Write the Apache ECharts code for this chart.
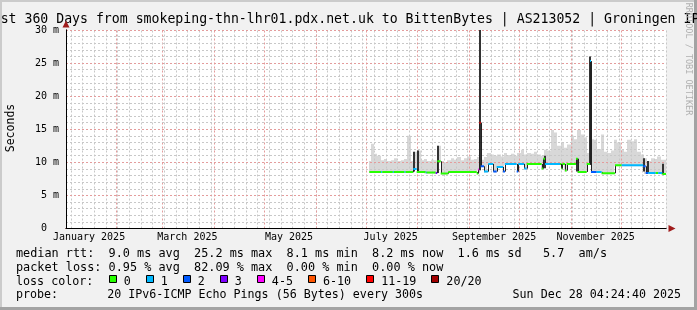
<!DOCTYPE html>
<html><head><meta charset="utf-8">
<script src="https://cdn.jsdelivr.net/npm/echarts@6/dist/echarts.min.js"></script>
<style>html,body{margin:0;padding:0;background:#f1f1f1;}#c{width:697px;height:310px;}</style>
</head><body><div id="c"></div>
<script>
// ---------------- data ----------------
const titleText = 'Last 360 Days from smokeping-thn-lhr01.pdx.net.uk to BittenBytes | AS213052 | Groningen IPv6';
const yAxisName = 'Seconds';
const rangeStart = '2025-01-02 04:24:40';
const rangeEnd = '2025-12-28 04:24:40';
const yTicks = [0, 5, 10, 15, 20, 25, 30];
const monthLabels = ['January 2025', 'March 2025', 'May 2025', 'July 2025', 'September 2025', 'November 2025'];
const monthLabelDates = ['2025-01-16', '2025-03-16', '2025-05-16', '2025-07-16', '2025-09-16', '2025-11-16'];

// median rtt (ms) as steps: start time, value, loss class index
const medStart = ['2025-07-03 04:00','2025-07-10 07:00','2025-07-10 22:00','2025-07-17 07:00','2025-07-17 22:00','2025-07-24 07:00','2025-07-24 22:00','2025-07-29 13:00','2025-07-31 14:00','2025-08-06 00:00','2025-08-06 14:00','2025-08-12 00:00','2025-08-12 23:00','2025-08-15 00:00','2025-08-19 13:00','2025-09-05 14:00','2025-09-06 13:00','2025-09-07 05:00','2025-09-08 00:00','2025-09-10 00:00','2025-09-12 13:00','2025-09-15 13:00','2025-09-17 14:00','2025-09-21 10:00','2025-09-22 14:00','2025-09-29 14:00','2025-09-30 13:00','2025-10-04 04:00','2025-10-05 14:00','2025-10-14 14:00','2025-10-15 13:00','2025-10-16 14:00','2025-10-25 14:00','2025-10-26 10:00','2025-10-27 00:00','2025-10-28 14:00','2025-10-29 14:00','2025-11-04 04:00','2025-11-05 05:00','2025-11-10 14:00','2025-11-12 14:00','2025-11-13 04:00','2025-11-16 14:00','2025-11-19 14:00','2025-11-27 14:00','2025-12-01 14:00','2025-12-14 13:00','2025-12-16 00:00','2025-12-17 12:00','2025-12-22 00:00','2025-12-23 12:00','2025-12-26 00:00'];
const medValue = [8.55,8.55,8.55,8.55,8.55,8.55,8.55,9.0,8.55,8.45,8.45,8.4,10.15,8.3,8.55,8.3,8.9,16.0,9.4,8.6,9.75,8.6,9.3,8.6,9.75,8.6,9.75,9.05,9.75,9.05,10.55,9.75,9.75,9.05,9.75,8.75,9.75,10.55,8.55,9.75,25.3,8.55,8.55,8.35,9.55,9.55,9.4,8.4,8.4,8.4,8.4,8.25];
const medLoss = [0,1,0,1,0,1,0,1,0,1,0,3,0,0,0,0,4,6,2,1,1,2,1,2,1,2,1,1,0,0,0,1,0,0,0,0,0,0,0,0,1,2,1,0,0,1,2,2,1,0,1,0];

// smoke: upper edge of the ping spread (ms), one value per two days
const smokeDates = ['2025-07-03','2025-07-05','2025-07-07','2025-07-09','2025-07-11','2025-07-13','2025-07-15','2025-07-17','2025-07-19','2025-07-21','2025-07-23','2025-07-25','2025-07-27','2025-07-29','2025-07-31',
'2025-08-02','2025-08-04','2025-08-06','2025-08-08','2025-08-10','2025-08-12','2025-08-14','2025-08-16','2025-08-18','2025-08-20','2025-08-22','2025-08-24','2025-08-26','2025-08-28','2025-08-30',
'2025-09-01','2025-09-03','2025-09-05','2025-09-07','2025-09-09','2025-09-11','2025-09-13','2025-09-15','2025-09-17','2025-09-19','2025-09-21','2025-09-23','2025-09-25','2025-09-27','2025-09-29',
'2025-10-01','2025-10-03','2025-10-05','2025-10-07','2025-10-09','2025-10-11','2025-10-13','2025-10-15','2025-10-17','2025-10-19','2025-10-21','2025-10-23','2025-10-25','2025-10-27','2025-10-29','2025-10-31',
'2025-11-02','2025-11-04','2025-11-06','2025-11-08','2025-11-10','2025-11-12','2025-11-14','2025-11-16','2025-11-18','2025-11-20','2025-11-22','2025-11-24','2025-11-26','2025-11-28','2025-11-30',
'2025-12-02','2025-12-04','2025-12-06','2025-12-08','2025-12-10','2025-12-12','2025-12-14','2025-12-16','2025-12-18','2025-12-20','2025-12-22','2025-12-24','2025-12-26','2025-12-28'];
const smokeHigh = [10.2,12.8,11.3,11.0,10.3,10.5,10.2,10.3,10.6,10.2,10.3,10.5,14.0,10.2,11.6,
11.8,10.3,10.5,10.2,10.4,10.3,12.5,10.2,10.0,10.3,10.6,10.4,10.8,10.3,10.6,
10.9,10.4,10.5,10.8,10.4,10.8,11.4,11.2,11.0,11.2,10.9,11.4,11.1,11.3,11.0,
11.4,11.9,11.2,11.4,11.3,11.6,11.2,11.0,11.9,11.8,14.9,14.5,12.5,13.0,12.2,12.7,
14.0,13.5,14.9,14.2,13.8,11.4,13.5,13.4,12.0,14.2,11.6,11.4,11.8,13.4,13.0,
11.9,11.6,13.4,13.2,13.5,11.6,11.2,10.6,10.2,10.6,10.5,10.9,10.4,10.4];

// dense (dark) smoke bursts
const spikeDates = ['2025-07-30 05:00','2025-08-01 12:00','2025-08-13 05:00','2025-09-07 10:00','2025-10-16 19:00','2025-11-05 00:00','2025-11-12 19:00','2025-12-14 19:00','2025-12-17 12:00','2025-12-26 14:00'];
const spikeLow = [8.6, 8.6, 8.4, 8.8, 9.1, 8.6, 9.6, 8.6, 8.4, 8.3];
const spikeHigh = [11.6, 11.8, 12.5, 30, 11.0, 10.6, 26.0, 10.6, 10.2, 9.8];

// legend
const lossLabels = ['0', '1', '2', '3', '4-5', '6-10', '11-19', '20/20'];
const lossColors = ['#26ff00', '#00b8ff', '#0059ff', '#7e00ff', '#ff00ff', '#ff5500', '#ff0000', '#a00000'];
const rttStats = ['9.0', '25.2', '8.1', '8.2', '1.6', '5.7'];
const lossStats = ['0.95', '82.09', '0.00', '0.00'];
const probeText = '20 IPv6-ICMP Echo Pings (56 Bytes) every 300s';
const stampText = 'Sun Dec 28 04:24:40 2025';
const watermark = 'RRDTOOL / TOBI OETIKER';

// ---------------- build ----------------
const MONO = '"DejaVu Sans Mono", monospace';
const DAY = 864e5;
const ts = s => { const [d, t = '00:00'] = s.split(' '); const [Y, M, D] = d.split('-').map(Number); const p = t.split(':').map(Number); return Date.UTC(Y, M - 1, D, p[0], p[1], p[2] || 0); };
const tMin = ts(rangeStart), tMax = ts(rangeEnd);
const medT = medStart.map(ts);
const medSeg = medT.map((t, i) => [t, i + 1 < medT.length ? medT[i + 1] : tMax, medValue[i], medLoss[i], i > 0 ? medValue[i - 1] : medValue[i]]);
function medianAt(t) { let v = medValue[0]; for (let i = 0; i < medT.length; i++) if (medT[i] <= t) v = medValue[i]; return v; }
const smokeData = smokeDates.map((d, i) => { const t = ts(d); return [Math.max(t - DAY, medT[0]), Math.min(t + DAY, tMax), medianAt(t) - 0.15, smokeHigh[i]]; });
const spikeData = spikeDates.map((d, i) => [ts(d), spikeLow[i], spikeHigh[i]]);
const labelTimes = monthLabelDates.map(ts);
const vLines = [];
for (let t = ts('2025-01-05'); t < tMax; t += 7 * DAY) vLines.push([t, 0]);
for (let m = 1; m < 12; m++) vLines.push([Date.UTC(2025, m, 1), 1]);

const chart = echarts.init(document.getElementById('c'), null, { renderer: 'canvas' });

const line1 = 'median rtt:  ' + rttStats[0] + ' ms avg  ' + rttStats[1] + ' ms max  ' + rttStats[2] + ' ms min  ' + rttStats[3] + ' ms now  ' + rttStats[4] + ' ms sd   ' + rttStats[5] + '  am/s';
const line2 = 'packet loss: ' + lossStats[0] + ' % avg  ' + lossStats[1] + ' % max  ' + lossStats[2] + ' % min  ' + lossStats[3] + ' % now';
const line4 = 'probe:       ' + probeText;

const graphics = [
  { type: 'rect', shape: { x: 0, y: 0, width: 697, height: 2 }, style: { fill: '#cbcbcb' }, silent: true },
  { type: 'rect', shape: { x: 0, y: 0, width: 2, height: 310 }, style: { fill: '#cbcbcb' }, silent: true },
  { type: 'rect', shape: { x: 0, y: 307, width: 697, height: 3 }, style: { fill: '#a3a3a3' }, silent: true },
  { type: 'rect', shape: { x: 694, y: 0, width: 3, height: 310 }, style: { fill: '#a3a3a3' }, silent: true },
  { type: 'text', x: 350, y: 19.4, style: { text: titleText, font: '13.2px ' + MONO, fill: '#000', align: 'center', verticalAlign: 'middle' }, silent: true },
  { type: 'text', x: 11, y: 128, rotation: Math.PI / 2, style: { text: yAxisName, font: '11.5px ' + MONO, fill: '#000', align: 'center', verticalAlign: 'middle' }, silent: true },
  { type: 'text', x: 688, y: 59, rotation: -Math.PI / 2, style: { text: watermark, font: '8.5px ' + MONO, fill: '#b0b0b0', align: 'center', verticalAlign: 'middle' }, silent: true },
  { type: 'text', x: 16, y: 254.2, style: { text: line1, font: '11.83px ' + MONO, fill: '#000', align: 'left', verticalAlign: 'middle' }, silent: true },
  { type: 'text', x: 16, y: 267.9, style: { text: line2, font: '11.83px ' + MONO, fill: '#000', align: 'left', verticalAlign: 'middle' }, silent: true },
  { type: 'text', x: 16, y: 281.6, style: { text: 'loss color:', font: '11.7px ' + MONO, fill: '#000', align: 'left', verticalAlign: 'middle' }, silent: true },
  { type: 'text', x: 16, y: 295.3, style: { text: line4, font: '11.66px ' + MONO, fill: '#000', align: 'left', verticalAlign: 'middle' }, silent: true },
  { type: 'text', x: 681, y: 295.3, style: { text: stampText, font: '11.66px ' + MONO, fill: '#000', align: 'right', verticalAlign: 'middle' }, silent: true }
];
{
  const cw = 7.04;
  let x = 108.5;
  lossLabels.forEach((lab, i) => {
    graphics.push({ type: 'rect', shape: { x: Math.round(x) + 0.5, y: 275.5, width: 7, height: 7 }, style: { fill: lossColors[i], stroke: '#000', lineWidth: 1 }, silent: true });
    const lx = x + 15.2;
    graphics.push({ type: 'text', x: lx, y: 281.6, style: { text: lab, font: '11.7px ' + MONO, fill: '#000', align: 'left', verticalAlign: 'middle' }, silent: true });
    x = lx + lab.length * cw + 14.8;
  });
}

const option = {
  backgroundColor: '#f1f1f1',
  animation: false,
  grid: { left: 66, top: 30, width: 600, height: 198.5, show: true, backgroundColor: '#ffffff', borderWidth: 0 },
  xAxis: [
    { type: 'value', min: tMin, max: tMax, position: 'bottom', z: 6,
      axisLine: { show: true, lineStyle: { color: '#a01c1c', width: 1 }, symbol: ['none', 'triangle'], symbolSize: [7, 7], symbolOffset: [0, 6] },
      axisTick: { show: false }, axisLabel: { show: false }, splitLine: { show: false } },
    { type: 'value', min: tMin, max: tMax, position: 'bottom', z: 7,
      axisLine: { show: true, lineStyle: { color: '#000', width: 1 } },
      axisTick: { show: false }, splitLine: { show: false },
      axisLabel: { show: true, customValues: labelTimes, formatter: v => { const i = labelTimes.indexOf(v); return i >= 0 ? monthLabels[i] : ''; },
        fontFamily: MONO, fontSize: 10, color: '#000', margin: 4, hideOverlap: false } }
  ],
  yAxis: [
    { type: 'value', min: yTicks[0], max: yTicks[yTicks.length - 1], interval: yTicks[1] - yTicks[0], position: 'left', z: 3,
      axisLine: { show: true, lineStyle: { color: '#000', width: 1 } },
      axisTick: { show: false },
      axisLabel: { formatter: v => v === 0 ? '0  ' : v + ' m', fontFamily: MONO, fontSize: 10, color: '#000', margin: 7 },
      splitLine: { show: true, lineStyle: { color: '#e49c9c', type: [2, 2], width: 1 } },
      minorTick: { show: false, splitNumber: 5 },
      minorSplitLine: { show: true, lineStyle: { color: '#c8c8c8', type: [2, 2], width: 1 } } },
    { type: 'value', min: yTicks[0], max: yTicks[yTicks.length - 1], interval: yTicks[1] - yTicks[0], position: 'left', z: 2,
      axisLine: { show: true, lineStyle: { color: '#a01c1c', width: 1 }, symbol: ['none', 'triangle'], symbolSize: [7, 7], symbolOffset: [0, 6] },
      axisTick: { show: false }, axisLabel: { show: false }, splitLine: { show: false } }
  ],
  graphic: graphics,
  series: [
    { type: 'custom', name: 'smoke', z: 1, silent: true, clip: true, xAxisIndex: 0, yAxisIndex: 0,
      data: smokeData,
      renderItem: (params, api) => {
        const a = api.coord([api.value(0), api.value(3)]);
        const b = api.coord([api.value(1), api.value(2)]);
        const x0 = Math.round(a[0]), x1 = Math.round(b[0]);
        return { type: 'rect', shape: { x: x0, y: a[1], width: x1 - x0, height: b[1] - a[1] }, style: { fill: '#d8d8d8' } };
      } },
    { type: 'custom', name: 'vgrid', z: 2, silent: true, xAxisIndex: 0, yAxisIndex: 0,
      data: vLines,
      renderItem: (params, api) => {
        const p0 = api.coord([api.value(0), yTicks[0]]);
        const p1 = api.coord([api.value(0), yTicks[yTicks.length - 1]]);
        const x = Math.round(p0[0]) + 0.5;
        const major = api.value(1) === 1;
        return { type: 'line', shape: { x1: x, y1: p0[1], x2: x, y2: p1[1] }, style: { stroke: major ? '#e49c9c' : '#c8c8c8', lineWidth: 1, lineDash: [2, 2] } };
      } },
    { type: 'custom', name: 'spikes', z: 4, silent: true, clip: true, xAxisIndex: 0, yAxisIndex: 0,
      data: spikeData,
      renderItem: (params, api) => {
        const a = api.coord([api.value(0), api.value(2)]);
        const b = api.coord([api.value(0), api.value(1)]);
        return { type: 'rect', shape: { x: Math.round(a[0]) - 1, y: a[1], width: 2, height: b[1] - a[1] }, style: { fill: '#333333' } };
      } },
    { type: 'custom', name: 'median', z: 5, silent: true, clip: true, xAxisIndex: 0, yAxisIndex: 0,
      data: medSeg,
      renderItem: (params, api) => {
        const t0 = api.value(0), t1 = api.value(1), v = api.value(2), loss = api.value(3), pv = api.value(4);
        const a = api.coord([t0, v]), b = api.coord([t1, v]), c = api.coord([t0, pv]);
        const kids = [];
        if (pv !== v) kids.push({ type: 'line', shape: { x1: Math.round(a[0]) + 0.5, y1: c[1], x2: Math.round(a[0]) + 0.5, y2: a[1] }, style: { stroke: '#222', lineWidth: 1 } });
        kids.push({ type: 'line', shape: { x1: a[0], y1: a[1], x2: Math.max(b[0], a[0] + 1), y2: b[1] }, style: { stroke: lossColors[loss], lineWidth: 2 } });
        return { type: 'group', children: kids };
      } }
  ]
};
chart.setOption(option);
</script>
</body></html>
